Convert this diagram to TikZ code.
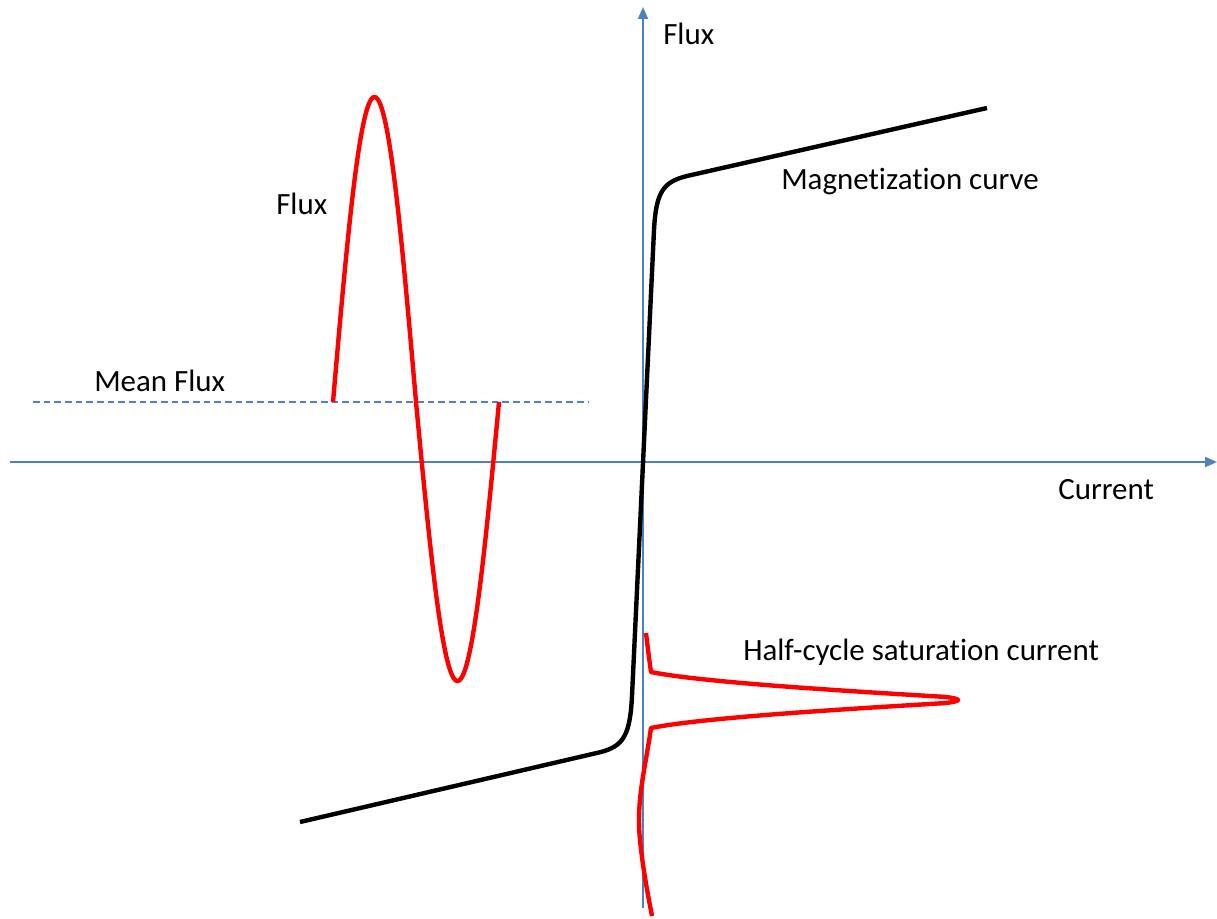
\documentclass[tikz,border=0pt]{standalone}
\usepackage{fontspec}
\setmainfont{Carlito}[Ligatures=NoCommon]
\usetikzlibrary{arrows.meta}
\definecolor{axisblue}{RGB}{79,129,189}
\tikzset{
  axisline/.style={draw=axisblue, line width=1.5pt, -{Triangle[length=9pt,width=7.5pt]}},
  meanline/.style={draw=axisblue, line width=0.8pt, dash pattern=on 5pt off 3pt},
  magcurve/.style={draw=black, line width=3.3pt},
  redcurve/.style={draw=red, line width=3.3pt, line join=round},
  lbl/.style={anchor=base west, inner sep=0pt, font=\fontsize{23.2}{28}\selectfont}
}
\begin{document}
\begin{tikzpicture}[x=0.75pt,y=-0.75pt]
\useasboundingbox (0,0) rectangle (1217,919);
% axes
\coordinate (ybot) at (643,908);
\coordinate (ytop) at (643,7);
\coordinate (xleft) at (10,462);
\coordinate (xright) at (1217,462);
\draw[axisline] (ybot) -- (ytop);
\draw[axisline] (xleft) -- (xright);
% mean flux line
\coordinate (m1) at (33,402);
\coordinate (m2) at (588,402);
\draw[meanline] (m1) -- (m2);
% magnetization curve
\draw[magcurve] (300,822) -- (601,752) .. controls (623,746) and (630,736) .. (632,696)
  -- (654,230) .. controls (656,192) and (663,182) .. (687,176) -- (987,108);
% flux sine wave
\draw[redcurve] plot[domain=0:83,samples=80] ({333+\x},{402-305*sin(2.168675*\x)})
  -- plot[domain=83:166,samples=80] ({333+\x},{402-279*sin(2.168675*\x)});
% half-cycle saturation current
\draw[redcurve] (646,633) .. controls (648,650) and (650,665) .. (651,672)
  .. controls (705,683) and (865,692) .. (946,697)
  .. controls (962,699) and (962,701) .. (946,703)
  .. controls (865,708) and (705,717) .. (651,728)
  .. controls (645,770) and (636,800) .. (640,840)
  .. controls (643,870) and (648,895) .. (652,916);
% labels
\node[lbl] (fluxaxis) at (663,45) {Flux};
\node[lbl] (current) at (1058,499) {Current};
\node[lbl] (magn) at (781,190) {Magnetization curve};
\node[lbl] (fluxwave) at (276,215) {Flux};
\node[lbl] (mean) at (94,392) {Mean Flux};
\node[lbl] (half) at (743,660) {Half-cycle saturation current};
\end{tikzpicture}
\end{document}
